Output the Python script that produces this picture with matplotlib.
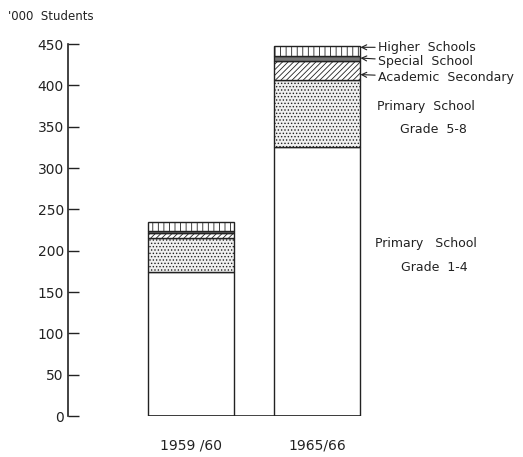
import matplotlib
matplotlib.use('Agg')
import matplotlib.pyplot as plt
import numpy as np

# 数据（千名学生）
years = ['1959 /60', '1965/66']
primary_1_4 = [174, 325]
primary_5_8 = [41, 82]
academic = [6, 23]
special = [3, 6]
higher = [11, 12]

plt.rcParams['font.family'] = ['DejaVu Sans']
plt.rcParams['hatch.linewidth'] = 0.6
plt.rcParams['hatch.color'] = '#333333'

fig = plt.figure(figsize=(5.23, 4.57), dpi=100)
ax = fig.add_axes([68 / 523, 41 / 457, 455 / 523, 372 / 457])

x = np.arange(len(years))
w = 0.68
layers = [
    (primary_1_4, 'white', ''),
    (primary_5_8, '#f0f0f0', '.....'),
    (academic, 'white', '//////'),
    (special, '#777777', ''),
    (higher, 'white', '|||'),
]
bottom = np.zeros(len(years))
for vals, fc, hatch in layers:
    ax.bar(x, vals, w, bottom=bottom, color=fc, hatch=hatch,
           edgecolor='#222222', linewidth=1.0)
    bottom += np.array(vals)

# 柱子之间的底线
ax.hlines(0, x[0] - w / 2, x[1] + w / 2, color='#222222', linewidth=1.2)

ax.set_xlim(-0.972, 2.625)
ax.set_ylim(0, 450)
ax.set_yticks(range(0, 451, 50))
ax.tick_params(axis='y', direction='in', length=8, width=1, labelsize=10,
               pad=3, colors='#222222')
ax.set_xticks(x)
ax.set_xticklabels(years)
ax.tick_params(axis='x', length=0, pad=16, labelsize=10, colors='#222222')
for s in ['top', 'right', 'bottom']:
    ax.spines[s].set_visible(False)
ax.spines['left'].set_linewidth(1.2)
ax.spines['left'].set_color('#222222')

fig.text(8 / 523, 1 - 16 / 457, "'000  Students", fontsize=8.5,
         va='center', ha='left', color='#222222')

# 右侧注释
tx = 1.478
edge = x[1] + w / 2
notes = [('Higher  Schools', 446, 446),
         ('Special  School', 428.5, 433),
         ('Academic  Secondary', 409, 413)]
for label, ty, ay in notes:
    ax.annotate(label, xy=(edge, ay), xytext=(tx, ty), fontsize=9,
                va='center', ha='left', color='#222222',
                arrowprops=dict(arrowstyle='->', color='#222222', lw=0.8,
                                shrinkA=0, shrinkB=0))

ax.text(1.86, 374, 'Primary  School', fontsize=9, ha='center', va='center',
        color='#222222')
ax.text(1.92, 347, 'Grade  5-8', fontsize=9, ha='center', va='center',
        color='#222222')
ax.text(1.86, 209, 'Primary   School', fontsize=9, ha='center', va='center',
        color='#222222')
ax.text(1.92, 180, 'Grade  1-4', fontsize=9, ha='center', va='center',
        color='#222222')

fig.savefig('out.png', dpi=100)
